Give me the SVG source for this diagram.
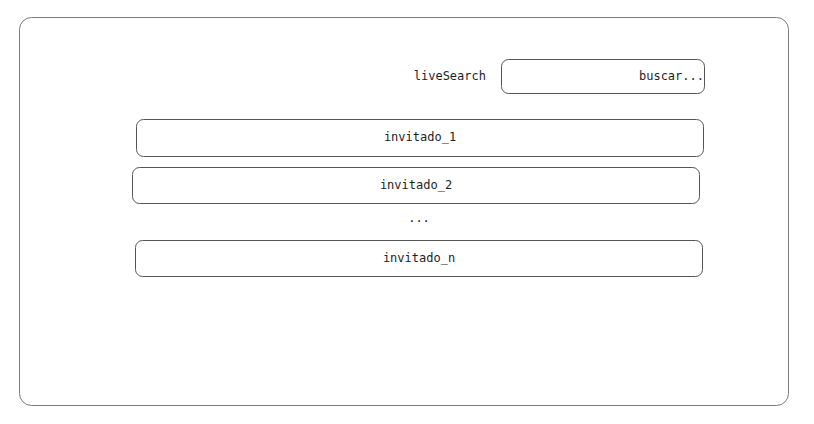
<svg xmlns="http://www.w3.org/2000/svg" width="814" height="424" viewBox="0 0 814 424">
<style>
.frame{fill:none;stroke:#7a7a7a;stroke-width:1}
.box{fill:none;stroke:#555;stroke-width:1}
.t{font-family:"DejaVu Sans Mono","Liberation Mono",monospace;font-size:12px;fill:#1e1e1e}
.c{text-anchor:middle}
.r{text-anchor:end}
</style>
<rect width="814" height="424" fill="#ffffff"/>
<g id="frame"><rect class="frame" x="19.5" y="17.5" width="769" height="388" rx="12"/></g>
<g id="liveSearch-label"><text class="t r" x="486" y="80">liveSearch</text></g>
<g id="search-box"><rect class="box" x="501.5" y="59.5" width="203" height="34" rx="7"/><text class="t r" x="704" y="80">buscar...</text></g>
<g id="invitado_1"><rect class="box" x="136.5" y="119.5" width="567" height="37" rx="7"/><text class="t c" x="420" y="141">invitado_1</text></g>
<g id="invitado_2"><rect class="box" x="132.5" y="167.5" width="567" height="36" rx="7"/><text class="t c" x="416" y="189">invitado_2</text></g>
<g id="ellipsis"><text class="t c" x="419" y="222">...</text></g>
<g id="invitado_n"><rect class="box" x="135.5" y="240.5" width="567" height="36" rx="7"/><text class="t c" x="419" y="262">invitado_n</text></g>
<g id="connectors"></g>
</svg>
